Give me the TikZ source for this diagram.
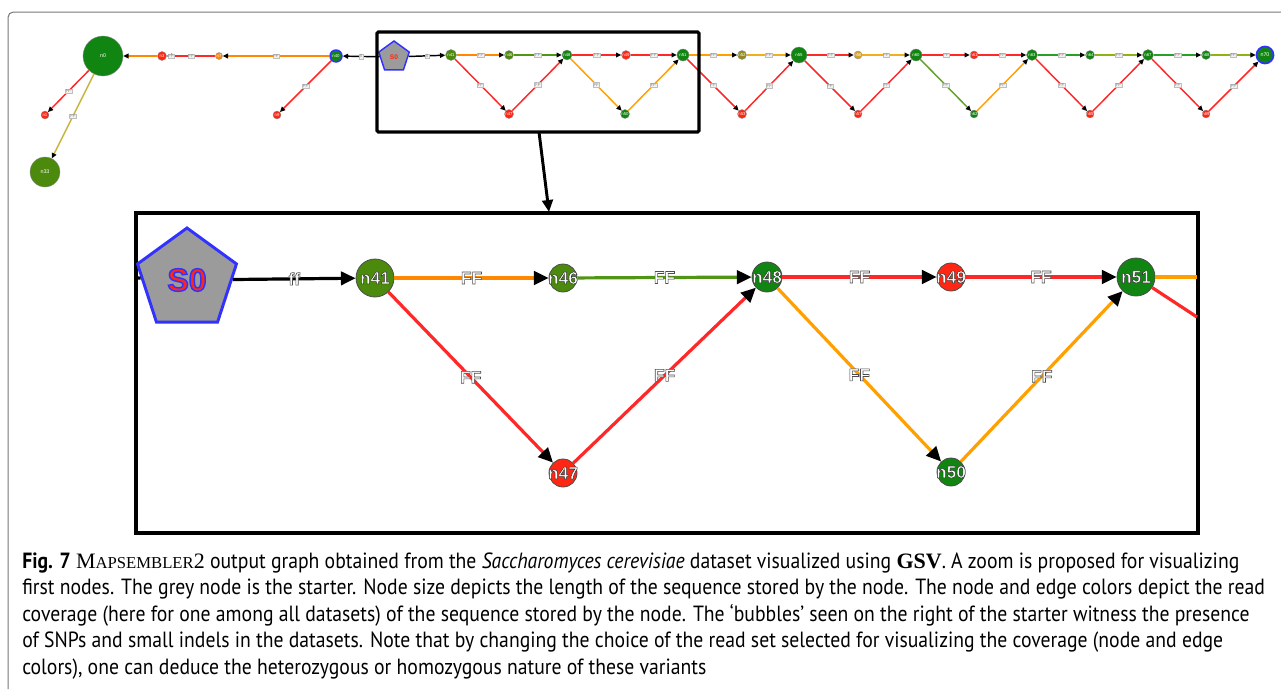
\documentclass[tikz,border=0pt]{standalone}
\usepackage{fontspec}
\setmainfont{PT Sans}[FakeStretch=0.895]
\newfontfamily\arialf{Liberation Sans}
\newfontfamily\capserif{Liberation Serif}
\usetikzlibrary{arrows.meta,shapes.geometric}
\definecolor{cgreen}{RGB}{17,133,17}
\definecolor{colive}{RGB}{75,138,12}
\definecolor{cred}{RGB}{255,38,20}
\definecolor{ered}{RGB}{255,40,40}
\definecolor{eorange}{RGB}{255,136,0}
\definecolor{eorange2}{RGB}{255,160,0}
\definecolor{egreen}{RGB}{80,150,20}
\definecolor{cblue}{RGB}{50,50,255}
\definecolor{cgrey}{RGB}{155,155,155}
\definecolor{framegrey}{RGB}{120,120,120}
\definecolor{eolive}{RGB}{200,180,60}
\definecolor{cgold}{RGB}{215,160,40}
\definecolor{colv2}{RGB}{145,140,30}
\definecolor{egold}{RGB}{240,175,30}
\definecolor{egreen2}{RGB}{40,160,40}
\definecolor{eygreen}{RGB}{140,180,20}
\definecolor{eogreen}{RGB}{100,160,40}
\newcommand\olt[3]{\special{pdf:literal direct #1 RG #2 w 2 Tr}#3\special{pdf:literal direct 0 Tr}}
\newcommand\nlab[1]{\makebox[0pt]{\olt{0.2 0.2 0.2}{0.4}{#1}}}
\newcommand\elab[1]{\olt{0.3 0.3 0.3}{0.45}{#1}}
\newcommand\slb[1]{\makebox[0pt]{#1}}
\newcommand\msm{{\capserif M{\fontsize{12.5}{13}\selectfont APSEMBLER}2}}
\begin{document}
\begin{tikzpicture}[x=0.75pt,y=-0.75pt,
 bnode/.style={circle,draw=black!70,line width=0.6pt,inner sep=0pt,text=white,font=\arialf\bfseries\fontsize{13}{13}\selectfont},
 snode/.style={circle,draw=black!45,line width=0.25pt,inner sep=0pt,text=white,font=\arialf\fontsize{3.2}{3.5}\selectfont},
 bedge/.style={line width=2.4pt,-{Triangle[length=11pt,width=10pt,color=black]}},
 sedge/.style={line width=1.1pt,-{Triangle[length=4pt,width=3.6pt,color=black]}},
 blab/.style={font=\arialf\bfseries\fontsize{13}{13}\selectfont,text=white,inner sep=0pt},
 slab/.style={font=\arialf\fontsize{3.2}{3.5}\selectfont,text=black!45,fill=black!6,draw=black!25,line width=0.2pt,inner sep=0.5pt},
 capline/.style={anchor=base west,inner sep=0pt,font=\fontsize{16.5}{18}\selectfont}
]
\useasboundingbox (0,0) rectangle (1281,689);
\fill[white] (0,0) rectangle (1281,689);
% outer frame
\draw[framegrey,line width=0.75pt,rounded corners=4pt] (8,689) -- (8,12) -- (1281,12);

% ---------- top overview strip ----------
\node[snode,fill=cgreen,minimum size=30pt,font=\arialf\fontsize{4}{4}\selectfont] (tn0) at (103,56) {n0};
\node[snode,fill=cred,minimum size=6pt] (tr1) at (45,115) {\slb{n1}};
\node[snode,fill=colive,minimum size=22.5pt,font=\arialf\fontsize{4}{4}\selectfont] (tn33) at (45,172) {n33};
\node[snode,fill=cred,minimum size=6.75pt] (tr2) at (162,56) {\slb{n3}};
\node[snode,fill=eorange,minimum size=5.25pt] (to1) at (219,56) {\slb{n7}};
\node[snode,fill=cgreen,draw=cblue,line width=1.1pt,minimum size=9pt] (tg1) at (336,56) {\slb{n40}};
\node[snode,fill=cred,minimum size=6pt] (tr3) at (277,115) {\slb{n9}};
\node[regular polygon,regular polygon sides=5,fill=cgrey,draw=cblue,line width=1.1pt,minimum size=24pt,inner sep=0pt,text=cred,font=\arialf\bfseries\fontsize{5}{5}\selectfont] (tS0) at (394,57) {S0};
\node[snode,fill=colive,minimum size=8.25pt] (tn41) at (451,55) {\slb{n41}};
\node[snode,fill=colive,minimum size=6.75pt] (tn46) at (509,55) {\slb{n46}};
\node[snode,fill=cred,minimum size=6.75pt] (tn47) at (509,114) {\slb{n47}};
\node[snode,fill=cgreen,minimum size=7.5pt] (tn48) at (567,55) {\slb{n48}};
\node[snode,fill=cred,minimum size=6.75pt] (tn49) at (626,55) {\slb{n49}};
\node[snode,fill=cgreen,minimum size=6.75pt] (tn50) at (625,114) {\slb{n50}};
\node[snode,fill=cgreen,minimum size=9pt] (tn51) at (683,55) {\slb{n51}};
\node[snode,fill=colv2,minimum size=6.75pt] (ta) at (742,55) {\slb{n52}};
\node[snode,fill=cred,minimum size=6.75pt] (tb) at (742,114) {\slb{n53}};
\node[snode,fill=cgreen,minimum size=12pt] (tc) at (799,55) {\slb{n55}};
\node[snode,fill=cgold,minimum size=6pt] (td) at (858,55) {\slb{n56}};
\node[snode,fill=cred,minimum size=6pt] (te) at (858,114) {\slb{n57}};
\node[snode,fill=cgreen,minimum size=9pt] (tf) at (916,55) {\slb{n60}};
\node[snode,fill=cred,minimum size=6pt] (tg) at (974,55) {\slb{n61}};
\node[snode,fill=cgreen,minimum size=6pt] (th) at (974,114) {\slb{n62}};
\node[snode,fill=cgreen,minimum size=8.25pt] (ti) at (1032,55) {\slb{n63}};
\node[snode,fill=cgreen,minimum size=6.75pt] (tj) at (1090,55) {\slb{n64}};
\node[snode,fill=cred,minimum size=6pt] (tk) at (1090,114) {\slb{n65}};
\node[snode,fill=cgreen,minimum size=8.25pt] (tl) at (1148,55) {\slb{n67}};
\node[snode,fill=cgreen,minimum size=6.75pt] (tm) at (1206,55) {\slb{n68}};
\node[snode,fill=cred,minimum size=6pt] (tn) at (1206,114) {\slb{n69}};
\node[snode,fill=cgreen,draw=cblue,line width=1.3pt,minimum size=12.75pt,font=\arialf\fontsize{4}{4}\selectfont] (to) at (1265,55) {n70};

\draw[sedge,black] (tS0) -- node[slab]{ff} (tg1);
\draw[sedge,eorange] (tg1) -- node[slab]{FF} (to1);
\draw[sedge,ered] (to1) -- node[slab]{FF} (tr2);
\draw[sedge,eorange] (tr2) -- node[slab,pos=-0.4]{FF} (tn0);
\draw[sedge,ered] (tg1) -- node[slab]{FF} (tr3);
\draw[sedge,ered] (tn0) -- node[slab]{FF} (tr1);
\draw[sedge,eolive] (tn0) -- node[slab]{FF} (tn33);
\draw[sedge,black] (tS0) -- node[slab]{ff} (tn41);
\draw[sedge,eorange] (tn41) -- node[slab]{FF} (tn46);
\draw[sedge,egreen] (tn46) -- node[slab]{FF} (tn48);
\draw[sedge,ered] (tn41) -- node[slab]{FF} (tn47);
\draw[sedge,ered] (tn47) -- node[slab]{FF} (tn48);
\draw[sedge,ered] (tn48) -- node[slab]{FF} (tn49);
\draw[sedge,ered] (tn49) -- node[slab]{FF} (tn51);
\draw[sedge,eorange2] (tn48) -- node[slab]{FF} (tn50);
\draw[sedge,eorange2] (tn50) -- node[slab]{FF} (tn51);
\draw[sedge,eorange2] (tn51) -- node[slab]{FF} (ta);
\draw[sedge,egold] (ta) -- node[slab]{FF} (tc);
\draw[sedge,ered] (tn51) -- node[slab]{FF} (tb);
\draw[sedge,ered] (tb) -- node[slab]{FF} (tc);
\draw[sedge,ered] (tc) -- node[slab]{FF} (td);
\draw[sedge,egold] (td) -- node[slab]{FF} (tf);
\draw[sedge,ered] (tc) -- node[slab]{FF} (te);
\draw[sedge,ered] (te) -- node[slab]{FF} (tf);
\draw[sedge,ered] (tf) -- node[slab]{FF} (tg);
\draw[sedge,ered] (tg) -- node[slab]{FF} (ti);
\draw[sedge,eogreen] (tf) -- node[slab]{FF} (th);
\draw[sedge,eorange2] (th) -- node[slab]{FF} (ti);
\draw[sedge,egreen2] (ti) -- node[slab]{FF} (tj);
\draw[sedge,eygreen] (tj) -- node[slab]{FF} (tl);
\draw[sedge,ered] (ti) -- node[slab]{FF} (tk);
\draw[sedge,ered] (tk) -- node[slab]{FF} (tl);
\draw[sedge,egreen2] (tl) -- node[slab]{FF} (tm);
\draw[sedge,eygreen] (tm) -- node[slab]{FF} (to);
\draw[sedge,ered] (tl) -- node[slab]{FF} (tn);
\draw[sedge,ered] (tn) -- node[slab]{FF} (to);

% ---------- zoom frame and arrow ----------
\draw[line width=2.4pt,rounded corners=1pt] (377,32) rectangle (699,132);
\coordinate (zf) at (539,132);
\coordinate (bb) at (549,212);
\draw[line width=2.2pt,-{Triangle[length=9pt,width=8pt]}] (zf) -- (bb);

% ---------- zoomed box ----------
\draw[line width=2.4pt] (136,213) rectangle (1198,533);
\node[regular polygon,regular polygon sides=5,fill=cgrey,draw=cblue,line width=2.2pt,minimum size=78pt,inner sep=0pt,text=cred,font=\arialf\bfseries\fontsize{24}{24}\selectfont] (S0) at (187,280) {\olt{0.2 0.2 1}{1.1}{S0}};
\node[bnode,fill=colive,minimum size=28.5pt] (n41) at (375,278) {\nlab{n41}};
\node[bnode,fill=colive,minimum size=21pt] (n46) at (563,278) {\nlab{n46}};
\node[bnode,fill=cred,minimum size=21pt] (n47) at (563,473) {\nlab{n47}};
\node[bnode,fill=cgreen,minimum size=22.5pt] (n48) at (767,277) {\nlab{n48}};
\node[bnode,fill=cred,minimum size=21pt] (n49) at (951,277) {\nlab{n49}};
\node[bnode,fill=cgreen,minimum size=21pt] (n50) at (951,472) {\nlab{n50}};
\node[bnode,fill=cgreen,minimum size=28.5pt] (n51) at (1136,277) {\nlab{n51}};
\coordinate (bl) at (137,278);
\coordinate (br1) at (1197,277);
\coordinate (br2) at (1197,317);

\draw[line width=2.4pt] (bl) -- (S0);
\draw[bedge,black] (S0) -- node[blab]{\elab{ff}} (n41);
\draw[bedge,eorange] (n41) -- node[blab]{\elab{FF}} (n46);
\draw[bedge,egreen] (n46) -- node[blab]{\elab{FF}} (n48);
\draw[bedge,ered] (n41) -- node[blab]{\elab{FF}} (n47);
\draw[bedge,ered] (n47) -- node[blab]{\elab{FF}} (n48);
\draw[bedge,ered] (n48) -- node[blab]{\elab{FF}} (n49);
\draw[bedge,ered] (n49) -- node[blab]{\elab{FF}} (n51);
\draw[bedge,eorange2] (n48) -- node[blab]{\elab{FF}} (n50);
\draw[bedge,eorange2] (n50) -- node[blab]{\elab{FF}} (n51);
\draw[line width=2.4pt,eorange2] (n51) -- (br1);
\draw[line width=2.4pt,ered] (n51) -- (br2);

% ---------- caption ----------
\node[capline] (cap1) at (22,568) {\textbf{Fig. 7} \msm{} output graph obtained from the \textit{Saccharomyces cerevisiae} dataset visualized using {\capserif\bfseries GSV}. A zoom is proposed for visualizing};
\node[capline] (cap2) at (22,594.5) {first nodes. The grey node is the starter. Node size depicts the length of the sequence stored by the node. The node and edge colors depict the read};
\node[capline] (cap3) at (22,621) {coverage (here for one among all datasets) of the sequence stored by the node. The ‘bubbles’ seen on the right of the starter witness the presence};
\node[capline] (cap4) at (22,647.5) {of SNPs and small indels in the datasets. Note that by changing the choice of the read set selected for visualizing the coverage (node and edge};
\node[capline] (cap5) at (22,674) {colors), one can deduce the heterozygous or homozygous nature of these variants};
\end{tikzpicture}
\end{document}
